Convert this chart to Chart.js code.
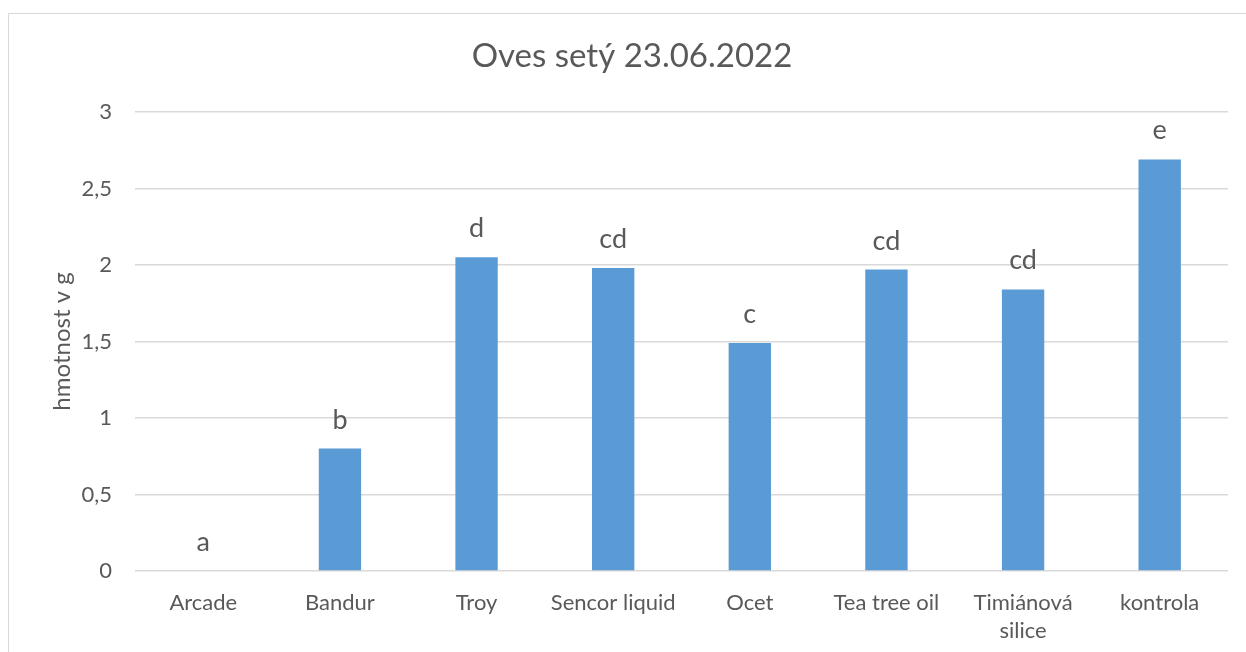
<!DOCTYPE html>
<html>
<head>
<meta charset="utf-8">
<script src="https://cdn.jsdelivr.net/npm/chart.js@4"></script>
<style>
  html, body { margin: 0; padding: 0; background: #fff; }
  #wrap { position: relative; width: 1246px; height: 652px; overflow: hidden; }
  #frame { position: absolute; left: 8px; top: 13px; width: 1400px; height: 800px; border: 1.5px solid #D9D9D9; box-sizing: border-box; }
  canvas { position: absolute; left: 0; top: 0; }
</style>
</head>
<body>
<div id="wrap">
  <div id="frame"></div>
  <canvas id="c" width="1246" height="652"></canvas>
</div>
<script>
const titleText = "Oves setý 23.06.2022";
const yAxisTitle = "hmotnost v g";
const categories = ["Arcade", "Bandur", "Troy", "Sencor liquid", "Ocet", "Tea tree oil", ["Timiánová", "silice"], "kontrola"];
const values = [0, 0.80, 2.05, 1.98, 1.49, 1.97, 1.84, 2.69];
const letters = ["a", "b", "d", "cd", "c", "cd", "cd", "e"];
const yTicks = [0, 0.5, 1, 1.5, 2, 2.5, 3];

const FONT = "Lato, 'Liberation Sans', sans-serif";
const TEXT = "#595959";

const letterPlugin = {
  id: "letters",
  afterLayout(chart) {
    // the original chart frame extends beyond the right edge; centre title on it
    if (chart.titleBlock) {
      chart.titleBlock.right = chart.titleBlock.left + 1264;
    }
  },
  afterDatasetsDraw(chart) {
    const ctx = chart.ctx;
    const meta = chart.getDatasetMeta(0);
    ctx.save();
    ctx.font = "27px " + FONT;
    ctx.fillStyle = TEXT;
    ctx.textAlign = "center";
    ctx.textBaseline = "alphabetic";
    meta.data.forEach((bar, i) => {
      ctx.fillText(letters[i], bar.x, bar.y - 20);
    });
    ctx.restore();
  }
};

new Chart(document.getElementById("c"), {
  type: "bar",
  data: {
    labels: categories,
    datasets: [{
      data: values,
      backgroundColor: "#5B9BD5",
      borderWidth: 0,
      categoryPercentage: 1,
      barPercentage: 0.31
    }]
  },
  options: {
    responsive: false,
    animation: false,
    layout: { padding: { left: 0, right: 18, top: 0, bottom: 0 } },
    plugins: {
      legend: { display: false },
      tooltip: { enabled: false },
      title: {
        display: true,
        text: titleText,
        color: TEXT,
        font: { family: FONT, size: 33, weight: "normal" },
        padding: { top: 37, bottom: 35.4 }
      }
    },
    scales: {
      x: {
        grid: { display: false },
        border: { display: false },
        ticks: {
          color: TEXT,
          font: { family: FONT, size: 22, lineHeight: 1.27 },
          padding: 10,
          maxRotation: 0,
          autoSkip: false
        },
        afterFit(scale) { scale.height = 81; }
      },
      y: {
        min: 0,
        max: 3,
        afterBuildTicks(scale) { scale.ticks = yTicks.map(v => ({ value: v })); },
        grid: { color: "#D9D9D9", lineWidth: 1.5, drawTicks: false },
        border: { display: false },
        ticks: {
          color: TEXT,
          font: { family: FONT, size: 22 },
          padding: 23,
          callback: v => String(v).replace(".", ",")
        },
        title: {
          display: true,
          text: yAxisTitle,
          color: TEXT,
          font: { family: FONT, size: 24 },
          padding: { top: 48, bottom: 0 }
        },
        afterFit(scale) { scale.width = 135; }
      }
    }
  },
  plugins: [letterPlugin]
});
</script>
</body>
</html>
